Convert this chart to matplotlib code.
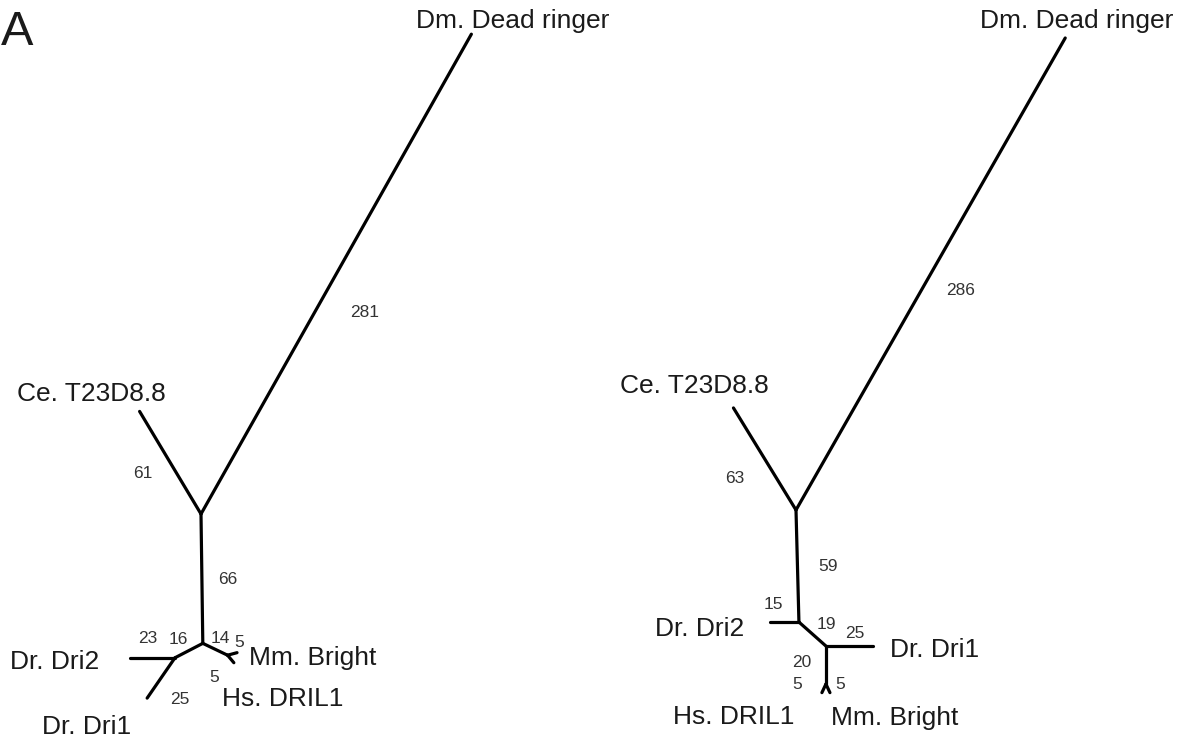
import numpy as np
import matplotlib
matplotlib.use("Agg")
import matplotlib.pyplot as plt

plt.rcParams['font.family'] = ['Liberation Sans', 'DejaVu Sans']

# ---------------- data ----------------
# Left tree (edges parent -> child with branch lengths)
left_parent = ["R", "R", "R", "A", "B", "B", "A", "C", "C"]
left_child = ["Dm", "Ce", "A", "B", "Dri2", "Dri1", "C", "Mm", "Hs"]
left_length = [281, 61, 66, 16, 23, 25, 14, 5, 5]

# Right tree
right_parent = ["R", "R", "R", "D", "D", "E", "E", "F", "F"]
right_child = ["Dm", "Ce", "D", "Dri2", "E", "Dri1", "F", "Hs", "Mm"]
right_length = [286, 63, 59, 15, 19, 25, 20, 5, 5]

taxon_names = {
    "Dm": "Dm. Dead ringer",
    "Ce": "Ce. T23D8.8",
    "Dri2": "Dr. Dri2",
    "Dri1": "Dr. Dri1",
    "Mm": "Mm. Bright",
    "Hs": "Hs. DRIL1",
}

# ---------------- layout ----------------
left_angle = [-60.6, -120.9, 89.2, 152.6, 180, 124.6, 25.6, -15, 50]
right_angle = [-60.3, -121.5, 88.5, 180, 41.6, 0, 90, 115, 65]
left_root, left_scale = (201, 514), 1.96
right_root, right_scale = (796, 510), 1.90

# label positions (x, baseline y) in pixels
left_num_pos = [(365, 317), (143, 478), (228, 584), (178, 644), (148, 643),
                (180, 704), (220, 643), (239, 647), (214, 682)]
right_num_pos = [(961, 295), (735, 483), (828, 571), (773.5, 609), (826, 629),
                 (855, 638), (802, 667), (797, 689), (840, 689)]
left_name_pos = {"Dm": (513, 28), "Ce": (91, 401), "Dri2": (54.5, 669),
                 "Dri1": (87, 734), "Mm": (313, 665), "Hs": (283, 706)}
right_name_pos = {"Dm": (1077, 28), "Ce": (694, 393), "Dri2": (700, 636),
                  "Dri1": (935, 657), "Mm": (895, 725), "Hs": (734, 724)}

W, H = 1185, 739
fig = plt.figure(figsize=(W / 100, H / 100), dpi=100)
ax = fig.add_axes([0, 0, 1, 1])
ax.set_xlim(0, W)
ax.set_ylim(H, 0)
ax.axis("off")


def draw_tree(parents, children, lengths, angles, root, scale, num_pos, name_pos):
    pos = {"R": root}
    for p, c, L, a, npos in zip(parents, children, lengths, angles, num_pos):
        x0, y0 = pos[p]
        x1 = x0 + L * scale * np.cos(np.radians(a))
        y1 = y0 + L * scale * np.sin(np.radians(a))
        pos[c] = (x1, y1)
        ax.plot([x0, x1], [y0, y1], color="black", lw=2.3,
                solid_capstyle="round")
        ax.text(npos[0], npos[1], str(L), fontsize=12.5, color="#333333",
                ha="center", va="baseline")
    for key, (x, y) in name_pos.items():
        ax.text(x, y, taxon_names[key], fontsize=19, color="#1a1a1a",
                ha="center", va="baseline")


draw_tree(left_parent, left_child, left_length, left_angle, left_root,
          left_scale, left_num_pos, left_name_pos)
draw_tree(right_parent, right_child, right_length, right_angle, right_root,
          right_scale, right_num_pos, right_name_pos)

ax.text(1, 45, "A", fontsize=35, color="#1a1a1a", ha="left", va="baseline")

fig.savefig("out.png", dpi=100)
